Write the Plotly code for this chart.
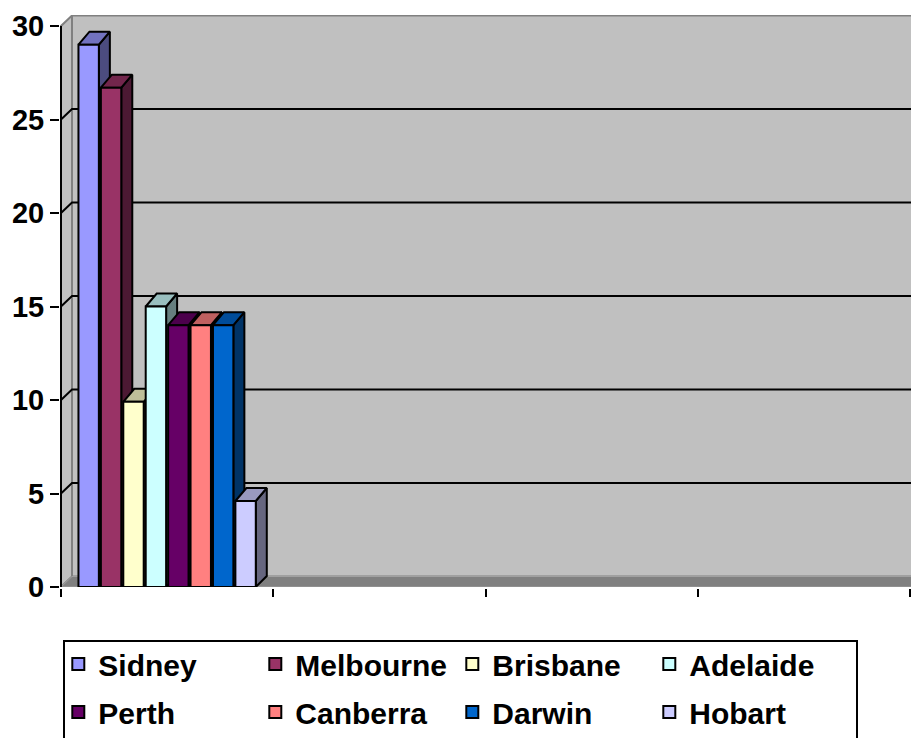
import plotly.graph_objects as go

# ---------------- data ----------------
cities = ["Sidney", "Melbourne", "Brisbane", "Adelaide", "Perth", "Canberra", "Darwin", "Hobart"]
values = [29, 26.7, 9.9, 15, 14, 14, 14, 4.6]
colors = ["#9999FF", "#993366", "#FFFFCC", "#CCFFFF", "#660066", "#FF8080", "#0066CC", "#CCCCFF"]
y_ticks = [0, 5, 10, 15, 20, 25, 30]
n_categories = 4

# ---------------- geometry (layout) ----------------
W, H = 911, 738
ML, MR, MT, MB = 60, 0, 15, 151
plot_w = W - ML - MR
plot_h = H - MT - MB
px_x = 212.25          # pixels per category
px_y = 18.7            # pixels per y unit
x_lo = -0.5 - 1 / px_x
x_hi = x_lo + plot_w / px_x
y_hi = plot_h / px_y
x_far = x_hi + 0.2

wall_dx = 11 / px_x
wall_dy = 10.5 / px_y
bar_dx = 11 / px_x
bar_dy_top = 13 / px_y
bar_dy_bot = 11 / px_y

bargap = 0.155
slot = (1 - bargap) / len(cities)
bar_w = slot * 0.91
group_left = -(1 - bargap) / 2


def shade(hx, f):
    hx = hx.lstrip("#")
    r, g, b = (int(hx[i:i + 2], 16) for i in (0, 2, 4))
    return "#%02X%02X%02X" % (int(r * f), int(g * f), int(b * f))


FONT = "Arial, Liberation Sans, sans-serif"
fig = go.Figure()

ymax_tick = y_ticks[-1]
xl = -0.5
# back wall
fig.add_trace(go.Scatter(
    x=[xl + wall_dx, x_far, x_far, xl + wall_dx, xl + wall_dx],
    y=[wall_dy, wall_dy, ymax_tick + wall_dy, ymax_tick + wall_dy, wall_dy],
    fill="toself", fillcolor="#C0C0C0", mode="lines",
    line=dict(color="#808080", width=2), showlegend=False, hoverinfo="skip", zorder=0))
# side wall
fig.add_trace(go.Scatter(
    x=[xl, xl, xl + wall_dx, xl + wall_dx, xl],
    y=[0, ymax_tick, ymax_tick + wall_dy, wall_dy, 0],
    fill="toself", fillcolor="#C0C0C0", mode="lines",
    line=dict(color="#808080", width=2), showlegend=False, hoverinfo="skip", zorder=1))
# floor
fig.add_trace(go.Scatter(
    x=[xl, xl + wall_dx, x_far, x_far, xl],
    y=[0, wall_dy, wall_dy, 0, 0],
    fill="toself", fillcolor="#808080", mode="lines",
    line=dict(color="#A0A0A0", width=1), showlegend=False, hoverinfo="skip", zorder=2))
# gridlines on side + back wall
gx, gy = [], []
for v in y_ticks[1:-1]:
    gx += [xl, xl + wall_dx, x_far, None]
    gy += [v, v + wall_dy, v + wall_dy, None]
fig.add_trace(go.Scatter(x=gx, y=gy, mode="lines", line=dict(color="black", width=2),
                         showlegend=False, hoverinfo="skip", zorder=3))

# bars
for i, (name, v, c) in enumerate(zip(cities, values, colors)):
    xc = group_left + slot * (i + 0.5)
    l, r = xc - bar_w / 2, xc + bar_w / 2
    z = 10 + 3 * i
    fig.add_trace(go.Scatter(
        x=[r, r + bar_dx, r + bar_dx, r, r],
        y=[0, bar_dy_bot, v + bar_dy_top, v, 0],
        fill="toself", fillcolor=shade(c, 0.5), mode="lines",
        line=dict(color="black", width=2), showlegend=False, hoverinfo="skip", zorder=z))
    fig.add_trace(go.Scatter(
        x=[l, l + bar_dx, r + bar_dx, r, l],
        y=[v, v + bar_dy_top, v + bar_dy_top, v, v],
        fill="toself", fillcolor=shade(c, 0.75), mode="lines",
        line=dict(color="black", width=2), showlegend=False, hoverinfo="skip", zorder=z + 1))
    fig.add_trace(go.Bar(
        x=[xc], y=[v], width=[bar_w], name=name,
        marker=dict(color=c, line=dict(color="black", width=2)),
        legend="legend" if i < 4 else "legend2", zorder=z + 2))

# y axis line (front)
fig.add_trace(go.Scatter(x=[xl, xl], y=[0, ymax_tick], mode="lines",
                         line=dict(color="black", width=2), showlegend=False,
                         hoverinfo="skip", zorder=100))

leg_common = dict(orientation="h", xanchor="left", yanchor="middle",
                  font=dict(family=FONT, size=30, color="black", weight="bold"),
                  entrywidth=152, entrywidthmode="pixels",
                  bgcolor="rgba(0,0,0,0)", borderwidth=0, traceorder="normal")

fig.update_layout(
    width=W, height=H,
    margin=dict(l=ML, r=MR, t=MT, b=MB),
    paper_bgcolor="white", plot_bgcolor="white",
    barmode="overlay",
    showlegend=True,
    legend=dict(x=-0.002, y=(587 - 664) / plot_h, **leg_common),
    legend2=dict(x=-0.002, y=(587 - 712) / plot_h, **leg_common),
    xaxis=dict(range=[x_lo, x_hi], showgrid=False, zeroline=False,
               showline=True, linecolor="black", linewidth=2,
               tickmode="array", tickvals=[k - 0.5 for k in range(n_categories + 1)],
               ticks="outside", ticklen=8, tickwidth=2, tickcolor="black",
               showticklabels=False),
    yaxis=dict(range=[0, y_hi], showgrid=False, zeroline=False, showline=False,
               tickmode="array", tickvals=y_ticks, ticktext=[str(t) for t in y_ticks],
               ticks="outside", ticklen=9, tickwidth=2, tickcolor="black",
               ticklabelstandoff=0,
               tickfont=dict(family=FONT, size=29, color="black", weight="bold")),
    shapes=[dict(type="rect", xref="paper", yref="paper",
                 x0=(64 - ML) / plot_w, x1=(857 - ML) / plot_w,
                 y0=(587 - 641) / plot_h, y1=(587 - 760) / plot_h,
                 line=dict(color="black", width=2), fillcolor="rgba(0,0,0,0)")],
)

fig.write_html("out.html")
